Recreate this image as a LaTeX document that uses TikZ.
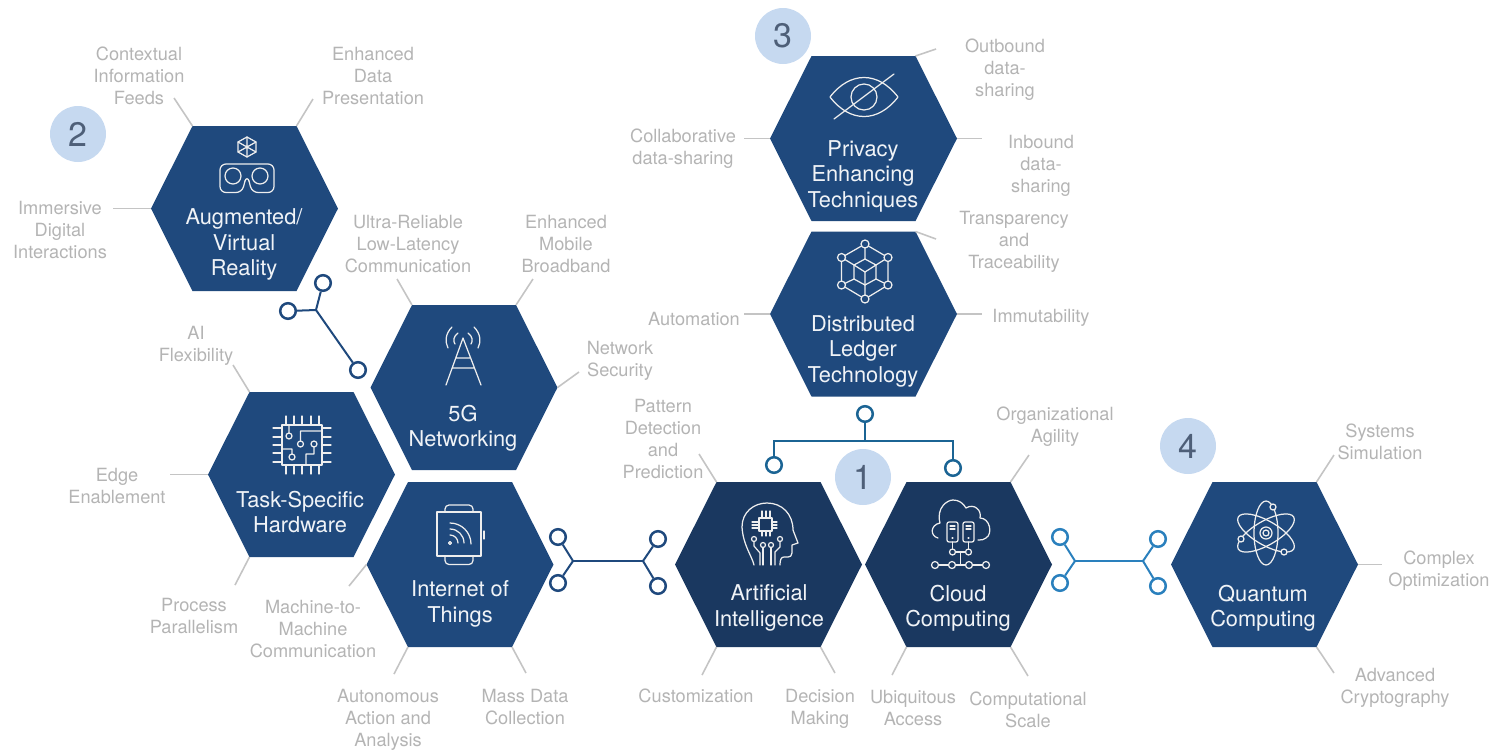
\documentclass[tikz,border=0pt]{standalone}
\usepackage{fontspec}
\setmainfont{TeX Gyre Heros}
\definecolor{hexblue}{HTML}{1F497D}
\definecolor{hexdark}{HTML}{1A3860}
\definecolor{leadgrey}{HTML}{C4C4C4}
\definecolor{labgrey}{HTML}{B4B4B4}
\definecolor{badge}{HTML}{C6D9F0}
\definecolor{badgetxt}{HTML}{4E5F78}
\definecolor{treeblue}{HTML}{1B6494}
\definecolor{lightblue}{HTML}{2A80BD}
\definecolor{iconw}{HTML}{EEEEEE}
\definecolor{hexw}{HTML}{F0F3F7}
\newcommand{\hexa}[4]{%
  \coordinate (#1-tl) at (#2-52,#3-82.5);
  \coordinate (#1-tr) at (#2+52,#3-82.5);
  \coordinate (#1-r) at (#2+93.5,#3);
  \coordinate (#1-br) at (#2+52,#3+82.5);
  \coordinate (#1-bl) at (#2-52,#3+82.5);
  \coordinate (#1-l) at (#2-93.5,#3);
  \fill[#4,line join=round] (#1-tl) -- (#1-tr) -- (#1-r) -- (#1-br) -- (#1-bl) -- (#1-l) -- cycle;}
\newcommand{\leadto}[3]{\coordinate (#1) at (#3); \draw[leadln] (#2) -- (#1);}
\tikzset{
  x=0.5pt,y=-0.5pt,
  leadln/.style={draw=leadgrey,line width=0.8pt},
  lab/.style={align=center,inner sep=0pt,text=labgrey,font=\fontsize{9.1}{11}\selectfont},
  hextxt/.style={align=center,inner sep=0pt,text=hexw,font=\fontsize{10.9}{12.75}\selectfont},
  icon/.style={draw=iconw,line width=0.62pt,line cap=round,line join=round},
  port/.style={circle,draw=#1,line width=1.25pt,fill=white,inner sep=0pt,minimum size=7.8pt},
  link/.style={draw=#1,line width=1pt},
  badgenode/.style={circle,fill=badge,inner sep=0pt,minimum size=28pt,text=badgetxt,font=\fontsize{17}{17}\selectfont},
}
\begin{document}
\begin{tikzpicture}
\useasboundingbox (0,0) rectangle (1490,751);
% hexagons
\hexa{ar}{244.5}{208.5}{hexblue}
\hexa{priv}{863.5}{138.5}{hexblue}
\hexa{dlt}{863.5}{314}{hexblue}
\hexa{fg}{464}{387.5}{hexblue}
\hexa{task}{301.5}{474.5}{hexblue}
\hexa{iot}{460}{564.5}{hexblue}
\hexa{ai}{768.5}{564.5}{hexdark}
\hexa{cloud}{958.5}{564.5}{hexdark}
\hexa{qc}{1264.5}{564.5}{hexblue}
% badges
\node[badgenode] (b1) at (863,477) {1};
\node[badgenode] (b2) at (78,134) {2};
\node[badgenode] (b3) at (783,36) {3};
\node[badgenode] (b4) at (1188,446) {4};
% leaders
\leadto{l1}{ar-tl}{174,98}
\leadto{l2}{ar-tr}{313,99}
\leadto{l3}{ar-l}{113,208.5}
\leadto{l4}{priv-tr}{936,49}
\leadto{l5}{priv-r}{982,138.5}
\leadto{l6}{priv-l}{744,138.5}
\leadto{l7}{dlt-tr}{936,239}
\leadto{l8}{dlt-r}{982,314}
\leadto{l9}{dlt-l}{744,314}
\leadto{l10}{fg-tl}{397,279}
\leadto{l11}{fg-tr}{533,279}
\leadto{l12}{fg-r}{579,372}
\leadto{l13}{task-tl}{233,365}
\leadto{l14}{task-l}{170,474.5}
\leadto{l15}{task-bl}{235,585}
\leadto{l16}{iot-l}{349,586}
\leadto{l17}{iot-bl}{394,674}
\leadto{l18}{iot-br}{526,673}
\leadto{l19}{ai-tl}{699,454}
\leadto{l20}{ai-bl}{702,675}
\leadto{l21}{ai-br}{835,673}
\leadto{l22}{cloud-tr}{1029,455}
\leadto{l23}{cloud-bl}{892,675}
\leadto{l24}{cloud-br}{1028,676}
\leadto{l25}{qc-tr}{1334,455}
\leadto{l26}{qc-r}{1382,564.5}
\leadto{l27}{qc-br}{1334,673}
% connectors
\coordinate (j1) at (316,310);
\node[port=hexblue] (p1) at (288,311) {};
\node[port=hexblue] (p2) at (323,283) {};
\node[port=hexblue] (p3) at (358,370) {};
\draw[link=hexblue] (p1) -- (j1); \draw[link=hexblue] (p2) -- (j1); \draw[link=hexblue] (p3) -- (j1);
\coordinate (j2) at (573,561); \coordinate (j3) at (643,561);
\node[port=hexblue] (p4) at (558,537) {};
\node[port=hexblue] (p5) at (558,583) {};
\node[port=hexblue] (p6) at (658,539) {};
\node[port=hexblue] (p7) at (658,586) {};
\draw[link=hexblue] (p4) -- (j2); \draw[link=hexblue] (p5) -- (j2); \draw[link=hexblue] (j2) -- (j3);
\draw[link=hexblue] (p6) -- (j3); \draw[link=hexblue] (p7) -- (j3);
\coordinate (j4) at (865,441);
\node[port=treeblue] (p8) at (865,414) {};
\node[port=treeblue] (p9) at (774,465) {};
\node[port=treeblue] (p10) at (953,468) {};
\draw[link=treeblue] (p8) -- (j4);
\draw[link=treeblue,line join=miter] (p9) |- (j4) -| (p10);
\coordinate (j5) at (1075,561); \coordinate (j6) at (1143,561);
\node[port=lightblue] (p11) at (1060,537) {};
\node[port=lightblue] (p12) at (1060,583) {};
\node[port=lightblue] (p13) at (1158,539) {};
\node[port=lightblue] (p14) at (1158,586) {};
\draw[link=lightblue] (p11) -- (j5); \draw[link=lightblue] (p12) -- (j5); \draw[link=lightblue] (j5) -- (j6);
\draw[link=lightblue] (p13) -- (j6); \draw[link=lightblue] (p14) -- (j6);
% hexagon texts
\node[hextxt] (tar) at (244,244.5) {Augmented/\\Virtual\\Reality};
\node[hextxt] (tpriv) at (863,176) {Privacy\\Enhancing\\Techniques};
\node[hextxt] (tdlt) at (863,351) {Distributed\\Ledger\\Technology};
\node[hextxt] (tfg) at (463,428) {5G\\Networking};
\node[hextxt] (ttask) at (300,512) {Task-Specific\\Hardware};
\node[hextxt] (tiot) at (460,604) {Internet of\\Things};
\node[hextxt] (tai) at (769,608) {Artificial\\Intelligence};
\node[hextxt] (tcloud) at (958,608) {Cloud\\Computing};
\node[hextxt] (tqc) at (1263,608) {Quantum\\Computing};
% grey labels
\node[lab] (a1) at (139,76) {Contextual\\Information\\Feeds};
\node[lab] (a2) at (373,76) {Enhanced\\Data\\Presentation};
\node[lab] (a3) at (60,230) {Immersive\\Digital\\Interactions};
\node[lab] (a4) at (408,244) {Ultra-Reliable\\Low-Latency\\Communication};
\node[lab] (a5) at (566,244) {Enhanced\\Mobile\\Broadband};
\node[lab] (a6) at (620,360.5) {Network\\Security};
\node[lab] (a7) at (196,346) {AI\\Flexibility};
\node[lab] (a8) at (117,485.5) {Edge\\Enablement};
\node[lab] (a9) at (194,615.5) {Process\\Parallelism};
\node[lab] (a10) at (313,629.5) {Machine-to-\\Machine\\Communication};
\node[lab] (a11) at (388,720) {Autonomous\\Action and\\Analysis};
\node[lab] (a12) at (525,707.5) {Mass Data\\Collection};
\node[lab] (a13) at (696,695.5) {Customization};
\node[lab] (a14) at (820,709) {Decision\\Making};
\node[lab] (a15) at (913,707.5) {Ubiquitous\\Access};
\node[lab] (a16) at (1028,709.5) {Computational\\Scale};
\node[lab] (a17) at (663,439) {Pattern\\Detection\\and\\Prediction};
\node[lab] (a18) at (1055,427) {Organizational\\Agility};
\node[lab] (a19) at (1380,441.5) {Systems\\Simulation};
\node[lab] (a20) at (1439,571) {Complex\\Optimization};
\node[lab] (a21) at (1395,688) {Advanced\\Cryptography};
\node[lab] (a22) at (1005,70) {Outbound\\data-\\sharing};
\node[lab] (a23) at (1041,165.5) {Inbound\\data-\\sharing};
\node[lab] (a24) at (683,149) {Collaborative\\data-sharing};
\node[lab] (a25) at (1014,242) {Transparency\\and\\Traceability};
\node[lab] (a26) at (694,319) {Automation};
\node[lab] (a27) at (1041,318) {Immutability};
% icon AR
\draw[icon] (247,137) -- (256,142) -- (256,152) -- (247,157) -- (238,152) -- (238,142) -- cycle;
\draw[icon] (238,142) -- (256,152) (256,142) -- (238,152) (247,137) -- (247,157);
\draw[icon,rounded corners=3pt] (245,181) -- (242,192.5) -- (220,192.5) -- (220,164) -- (274,164) -- (274,192.5) -- (252,192.5) -- (249,181);
\draw[icon] (245,181) .. controls (246,178) and (248,178) .. (249,181);
\draw[icon] (233,176) circle (8) (260,176) circle (8);
% icon privacy
\draw[icon] (830,97) .. controls (850,71) and (878,71) .. (898,97) .. controls (878,123) and (850,123) .. (830,97);
\draw[icon] (864,97) circle (13);
\draw[icon] (834,119) -- (894,74);
% icon DLT
\foreach \n/\p/\q in {a/865/244,b/841.5/257.5,c/888/257.5,d/841.5/285,e/888/285,f/865/299}
  \coordinate (d\n) at (\p,\q);
\foreach \n/\p/\q in {a/865/259,b/854/265,c/876/265,d/854/279,e/876/279,f/865/285,g/865/272}
  \coordinate (i\n) at (\p,\q);
\draw[icon] (da) -- (dc) -- (de) -- (df) -- (dd) -- (db) -- cycle;
\draw[icon] (da) -- (ia) (db) -- (ib) (dc) -- (ic) (dd) -- (id) (de) -- (ie) (df) -- (if);
\draw[icon] (ia) -- (ic) -- (ie) -- (if) -- (id) -- (ib) -- cycle;
\draw[icon] (ib) -- (ig) -- (ic) (ig) -- (if);
\foreach \n in {a,b,c,d,e,f} \draw[icon,fill=hexblue] (d\n) circle (4);
% icon 5G
\draw[icon] (446,385) -- (463,338) -- (481,385) (456,358) -- (470.5,358) (452,368) -- (474.5,368);
\draw[icon] (452,327) .. controls (445,334) and (445,342) .. (448,348);
\draw[icon] (458,333) .. controls (453,337) and (453,341) .. (455,344);
\draw[icon] (474,327) .. controls (481,334) and (481,342) .. (478,348);
\draw[icon] (468,333) .. controls (473,337) and (473,341) .. (471,344);
% icon task
\draw[icon] (282,425) rectangle (322,465);
\foreach \p in {286,294,302,311,319} \draw[icon] (\p,416) -- (\p,425) (\p,465) -- (\p,474);
\foreach \q in {428,437,445,453,462} \draw[icon] (273,\q) -- (282,\q) (322,\q) -- (331,\q);
\draw[icon] (289,425) -- (289,433) (289,436) circle (3);
\draw[icon] (322,431) -- (300.5,431) -- (300.5,441) (300.5,444) circle (3);
\draw[icon] (314,447) -- (314,454) -- (306,454) -- (306,465) (314,444) circle (3);
\draw[icon] (282,449) -- (292,449) -- (292,454) (292,457) circle (3);
% icon IoT
\draw[icon] (437,512) rectangle (481,556);
\draw[icon,rounded corners=2pt] (445,511) -- (445,505) -- (473,505) -- (473,511);
\draw[icon,rounded corners=2pt] (445,557) -- (445,564.5) -- (473,564.5) -- (473,557);
\draw[icon] (484,531) -- (484,539);
\draw[icon] (450,543) circle (1.5);
\draw[icon] (450,535) arc[start angle=-90,end angle=0,radius=8];
\draw[icon] (450,529) arc[start angle=-90,end angle=0,radius=14];
\draw[icon] (450,523) arc[start angle=-90,end angle=0,radius=21];
% icon AI
\draw[icon] (754,565) .. controls (752,556) and (743,545) .. (742,527) .. controls (742,512) and (754,503) .. (767,503) .. controls (782,503) and (793,514) .. (793,530) -- (798,543) -- (792,545) -- (792,553) .. controls (792,556) and (790,557) .. (788,557) -- (784,557) .. controls (781,557) and (780,560) .. (780,565);
\draw[icon] (759,518) rectangle (772,531);
\foreach \p in {762,766,770} \draw[icon] (\p,511) -- (\p,518) (\p,531) -- (\p,536);
\foreach \q in {522,525,528} \draw[icon] (752,\q) -- (759,\q) (772,\q) -- (777,\q);
\draw[icon] (754,539) circle (2.5) (763,545) circle (2.5) (771,545) circle (2.5) (780,539) circle (2.5);
\draw[icon] (754,541.5) -- (754,546) -- (760,553) -- (760,565);
\draw[icon] (763,547.5) -- (763,565) (771,547.5) -- (771,565);
\draw[icon] (780,541.5) -- (780,547) -- (775,552) -- (775,565);
% icon cloud
\draw[icon] (938,538) .. controls (930,536) and (930,525) .. (940,523) .. controls (936,508) and (947,500) .. (953,500) .. controls (959,500) and (963,503) .. (966,508) .. controls (974,503) and (982,510) .. (980,518) .. controls (990,518) and (993,534) .. (986,538) .. controls (984,540) and (981,540) .. (978,540);
\draw[icon,rounded corners=1pt] (947,522) rectangle (958,542) (963,522) rectangle (974,542);
\draw[icon] (950,526) -- (955,526) (950,529) -- (955,529) (966,526) -- (971,526) (966,529) -- (971,529);
\draw[icon] (952.5,538) circle (0.5) (968.5,538) circle (0.5);
\draw[icon] (952.5,542) -- (952.5,549) (968.5,542) -- (968.5,549);
\draw[icon] (952.5,552) circle (3) (968.5,552) circle (3);
\draw[icon] (955.5,552) -- (965.5,552) (960.5,552) -- (960.5,565);
\draw[icon] (935,565) circle (3.5) (952,565) circle (3.5) (969,565) circle (3.5) (986,565) circle (3.5);
\draw[icon] (938.5,565) -- (948.5,565) (955.5,565) -- (965.5,565) (972.5,565) -- (982.5,565);
% icon quantum
\draw[icon] (1266,533) circle (6) (1266,533) circle (3);
\draw[icon,rotate around={90:(1266,533)}] (1266,533) ellipse (32 and 12);
\draw[icon,rotate around={30:(1266,533)}] (1266,533) ellipse (32 and 12);
\draw[icon,rotate around={-30:(1266,533)}] (1266,533) ellipse (32 and 12);
\draw[icon,fill=hexblue] (1273,507) circle (3) (1241,539) circle (3) (1284,552) circle (3);
\end{tikzpicture}
\end{document}
